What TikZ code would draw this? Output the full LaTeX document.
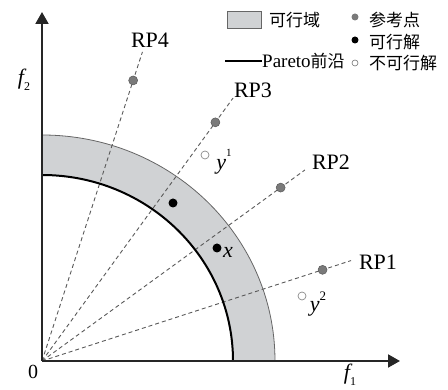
\documentclass[tikz,border=0pt]{standalone}
\usepackage{fontspec}
\setmainfont{Liberation Serif}
\newfontfamily\cjk{Noto Sans CJK SC}
\usetikzlibrary{arrows.meta}
\definecolor{bandgray}{RGB}{208,210,212}
\begin{document}
\begin{tikzpicture}[x=1pt,y=1pt,
  axis/.style={line width=2pt,draw=black!85,-{Triangle[length=12pt,width=13pt]}},
  ray/.style={draw=black!65,line width=0.9pt,dash pattern=on 4pt off 3pt},
  refpt/.style={circle,fill=black!52,draw=black!65,line width=0.5pt,inner sep=0pt,minimum size=9pt},
  feas/.style={circle,fill=black,inner sep=0pt,minimum size=9pt},
  infeas/.style={circle,fill=white,draw=black!45,line width=0.7pt,inner sep=0pt,minimum size=8pt},
  lgdref/.style={circle,fill=black!52,inner sep=0pt,minimum size=7pt},
  lgdfeas/.style={circle,fill=black,inner sep=0pt,minimum size=7pt},
  lgdinf/.style={circle,fill=white,draw=black!55,line width=0.6pt,inner sep=0pt,minimum size=6pt},
  lbl/.style={font=\fontsize{22}{24}\selectfont,inner sep=0pt},
  ilbl/.style={font=\fontsize{22}{24}\selectfont\itshape,inner sep=0pt},
  cjklbl/.style={font=\cjk\fontsize{17}{18}\selectfont,inner sep=0pt,anchor=west}
]
\useasboundingbox (0,0) rectangle (448,390);
\coordinate (O) at (42,29);
% feasible band
\fill[bandgray] (275,29) arc[start angle=0,end angle=90,x radius=233,y radius=226]
  -- (42,215) arc[start angle=90,end angle=0,x radius=191,y radius=186] -- cycle;
% rays
\foreach \a/\n in {18/1,36/2,54/3,72/4}{
  \path (O) ++(\a:325) coordinate (e\n);
  \path (O) ++(\a:295) coordinate (p\n);
  \draw[ray] (O) -- (e\n);
}
% arcs
\draw[black!60,line width=0.8pt] (275,29) arc[start angle=0,end angle=90,x radius=233,y radius=226];
\draw[black,line width=2pt] (233,29) arc[start angle=0,end angle=90,x radius=191,y radius=186];
% axes
\coordinate (xt) at (400,29);
\coordinate (yt) at (42,378);
\draw[axis] (O) -- (xt);
\draw[axis] (O) -- (yt);
% reference points
\foreach \n in {1,2,3,4}{ \node[refpt] (rp\n) at (p\n) {}; }
\node[lbl] (l1) at (378,128) {RP1};
\node[lbl] (l2) at (331,228) {RP2};
\node[lbl] (l3) at (253,300) {RP3};
\node[lbl] (l4) at (150,350) {RP4};
% feasible solutions
\node[feas] (s1) at (173,187) {};
\node[feas] (s2) at (217,142) {};
\node[ilbl] (xl) at (228,138) {x};
% infeasible solutions
\node[infeas] (y1) at (205,235) {};
\node[lbl] (y1l) at (224,228) {\itshape y\raisebox{1.3ex}{\fontsize{11}{11}\selectfont\upshape 1}};
\node[infeas] (y2) at (302,94) {};
\node[lbl] (y2l) at (318,86) {\itshape y\raisebox{1.1ex}{\fontsize{13}{13}\selectfont\upshape 2}};
% axis labels
\node[ilbl] (f2) at (24,310) {f\raisebox{-0.6ex}{\fontsize{12}{12}\selectfont\upshape 2}};
\node[ilbl] (f1) at (350,15) {f\raisebox{-0.6ex}{\fontsize{12}{12}\selectfont\upshape 1}};
\node[font=\fontsize{20}{22}\selectfont,inner sep=0pt] (zero) at (33,18) {0};
% legend
\node[draw=black!60,fill=bandgray,line width=0.6pt,minimum width=34pt,minimum height=17pt,inner sep=0pt] (lgband) at (244,370.5) {};
\node[cjklbl] (lgbandt) at (269,370) {可行域};
\coordinate (pa) at (225,329);
\coordinate (pb) at (262,329);
\draw[black,line width=2pt] (pa) -- (pb);
\node[inner sep=0pt,anchor=west,font=\fontsize{19}{20}\selectfont] (lgpar) at (pb) {Pareto{\cjk\fontsize{17}{18}\selectfont 前沿}};
\node[lgdref] (lgr) at (355,373) {};
\node[lgdfeas] (lgf) at (355,350) {};
\node[lgdinf] (lgi) at (355,327) {};
\node[cjklbl] (lgrt) at (369,370) {参考点};
\node[cjklbl] (lgft) at (369,348) {可行解};
\node[cjklbl] (lgit) at (369,327) {不可行解};
\end{tikzpicture}
\end{document}
